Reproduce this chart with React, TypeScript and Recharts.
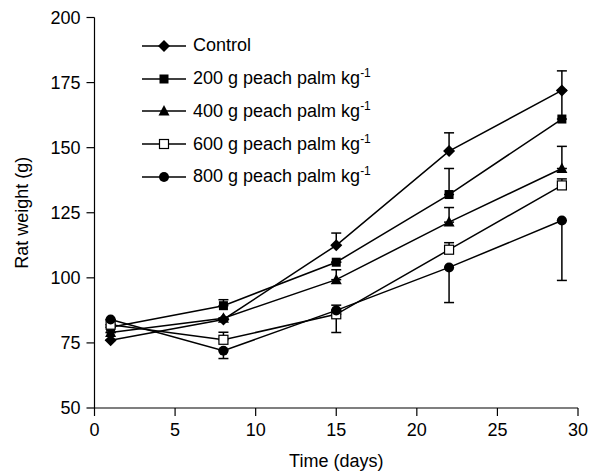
import React from "react";
import {
  LineChart,
  Line,
  XAxis,
  YAxis,
  ErrorBar,
  Legend,
} from "recharts";

// days of measurement
const days = [1, 8, 15, 22, 29];

// mean rat weight (g) per diet
const control = [76, 84, 112.5, 148.7, 172];
const peach200 = [81, 89.3, 106, 132, 161];
const peach400 = [79, 84.5, 99.3, 121.4, 142];
const peach600 = [82, 76.2, 86, 110.8, 135.5];
const peach800 = [84, 72, 87.5, 104, 122];

// [lower, upper] error per point
const controlErr = [[0, 0], [0, 0], [0, 4.7], [0, 7], [0, 7.5]];
const peach200Err = [[0, 0], [0, 2.3], [0, 0], [0, 10], [0, 11]];
const peach400Err = [[0, 0], [0, 0], [0, 3.8], [0, 5.6], [0, 8.5]];
const peach600Err = [[0, 0], [0, 2.9], [7, 0], [0, 2.7], [0, 2.5]];
const peach800Err = [[0, 0], [3, 0], [0, 2], [13.5, 0], [23, 0]];

const xTicks = [0, 5, 10, 15, 20, 25, 30];
const yTicks = [50, 75, 100, 125, 150, 175, 200];

const data = days.map((d, i) => ({
  day: d,
  control: control[i],
  p200: peach200[i],
  p400: peach400[i],
  p600: peach600[i],
  p800: peach800[i],
  controlErr: controlErr[i],
  p200Err: peach200Err[i],
  p400Err: peach400Err[i],
  p600Err: peach600Err[i],
  p800Err: peach800Err[i],
}));

type Kind = "diamond" | "square" | "triangle" | "open" | "circle";

const FONT = "'Liberation Sans', Arial, sans-serif";

function Marker({ kind, cx, cy }: { kind: Kind; cx: number; cy: number }) {
  switch (kind) {
    case "diamond":
      return (
        <polygon
          points={`${cx},${cy - 6} ${cx + 6},${cy} ${cx},${cy + 6} ${cx - 6},${cy}`}
          fill="#000"
        />
      );
    case "square":
      return <rect x={cx - 4.5} y={cy - 4.5} width={9} height={9} fill="#000" />;
    case "triangle":
      return (
        <polygon
          points={`${cx},${cy - 6} ${cx + 5.5},${cy + 4.5} ${cx - 5.5},${cy + 4.5}`}
          fill="#000"
        />
      );
    case "open":
      return (
        <rect
          x={cx - 4.5}
          y={cy - 4.5}
          width={9}
          height={9}
          fill="#fff"
          stroke="#000"
          strokeWidth={1.2}
        />
      );
    default:
      return <circle cx={cx} cy={cy} r={5} fill="#000" />;
  }
}

const dotOf = (kind: Kind) => (props: any) => (
  <Marker key={`${kind}-${props.index}`} kind={kind} cx={props.cx} cy={props.cy} />
);

const series: { key: string; err: string; kind: Kind; label: string; sup: boolean }[] = [
  { key: "control", err: "controlErr", kind: "diamond", label: "Control", sup: false },
  { key: "p200", err: "p200Err", kind: "square", label: "200 g peach palm kg", sup: true },
  { key: "p400", err: "p400Err", kind: "triangle", label: "400 g peach palm kg", sup: true },
  { key: "p600", err: "p600Err", kind: "open", label: "600 g peach palm kg", sup: true },
  { key: "p800", err: "p800Err", kind: "circle", label: "800 g peach palm kg", sup: true },
];

function LegendBox() {
  return (
    <div style={{ fontFamily: FONT, fontSize: 18, color: "#000" }}>
      {series.map((s) => (
        <div
          key={s.key}
          style={{ display: "flex", alignItems: "center", height: 32.7, whiteSpace: "nowrap" }}
        >
          <svg width={48} height={14} style={{ display: "block" }}>
            <line x1={2} y1={7} x2={46} y2={7} stroke="#000" strokeWidth={1.5} />
            <Marker kind={s.kind} cx={24} cy={7} />
          </svg>
          <span style={{ marginLeft: 5 }}>
            {s.label}
            {s.sup && (
              <span style={{ fontSize: 12, position: "relative", top: -7 }}>-1</span>
            )}
          </span>
        </div>
      ))}
    </div>
  );
}

const tickStyle = { fontSize: 18, fill: "#000", fontFamily: FONT };

export default function App() {
  return (
    <div style={{ position: "absolute", left: 0, top: 0, background: "#fff" }}>
      <LineChart
        width={591}
        height={472}
        data={data}
        margin={{ top: 17.5, right: 13, bottom: 0, left: 0 }}
      >
        <XAxis
          dataKey="day"
          type="number"
          domain={[0, 30]}
          ticks={xTicks}
          height={64}
          tick={tickStyle}
          tickSize={8}
          tickMargin={7}
          stroke="#000"
          axisLine={{ stroke: "#000", strokeWidth: 1.2 }}
          tickLine={{ stroke: "#000", strokeWidth: 1.2 }}
          label={{
            value: "Time (days)",
            position: "insideBottom",
            offset: 5,
            style: { fontSize: 18, fill: "#000", fontFamily: FONT },
          }}
        />
        <YAxis
          type="number"
          domain={[50, 200]}
          ticks={yTicks}
          width={94.5}
          tick={tickStyle}
          tickSize={8}
          tickMargin={6}
          stroke="#000"
          axisLine={{ stroke: "#000", strokeWidth: 1.2 }}
          tickLine={{ stroke: "#000", strokeWidth: 1.2 }}
          label={{
            content: (p: any) => {
              const vb = p.viewBox || { y: 17.5, height: 390.5 };
              const cy = vb.y + vb.height / 2;
              return (
                <text
                  x={22}
                  y={cy}
                  transform={`rotate(-90, 22, ${cy})`}
                  textAnchor="middle"
                  dominantBaseline="central"
                  style={{ fontSize: 18, fill: "#000", fontFamily: FONT }}
                >
                  Rat weight (g)
                </text>
              );
            },
          }}
        />
        <Legend
          layout="vertical"
          align="center"
          verticalAlign="middle"
          wrapperStyle={{ top: 29.6, left: 140, width: 300 }}
          content={() => <LegendBox />}
        />
        {series.map((s) => (
          <Line
            key={s.key}
            type="linear"
            dataKey={s.key}
            stroke="#000"
            strokeWidth={1.5}
            dot={dotOf(s.kind)}
            activeDot={false}
            isAnimationActive={false}
          >
            <ErrorBar
              dataKey={s.err}
              direction="y"
              width={5}
              stroke="#000"
              strokeWidth={1.5}
              isAnimationActive={false}
            />
          </Line>
        ))}
      </LineChart>
    </div>
  );
}
